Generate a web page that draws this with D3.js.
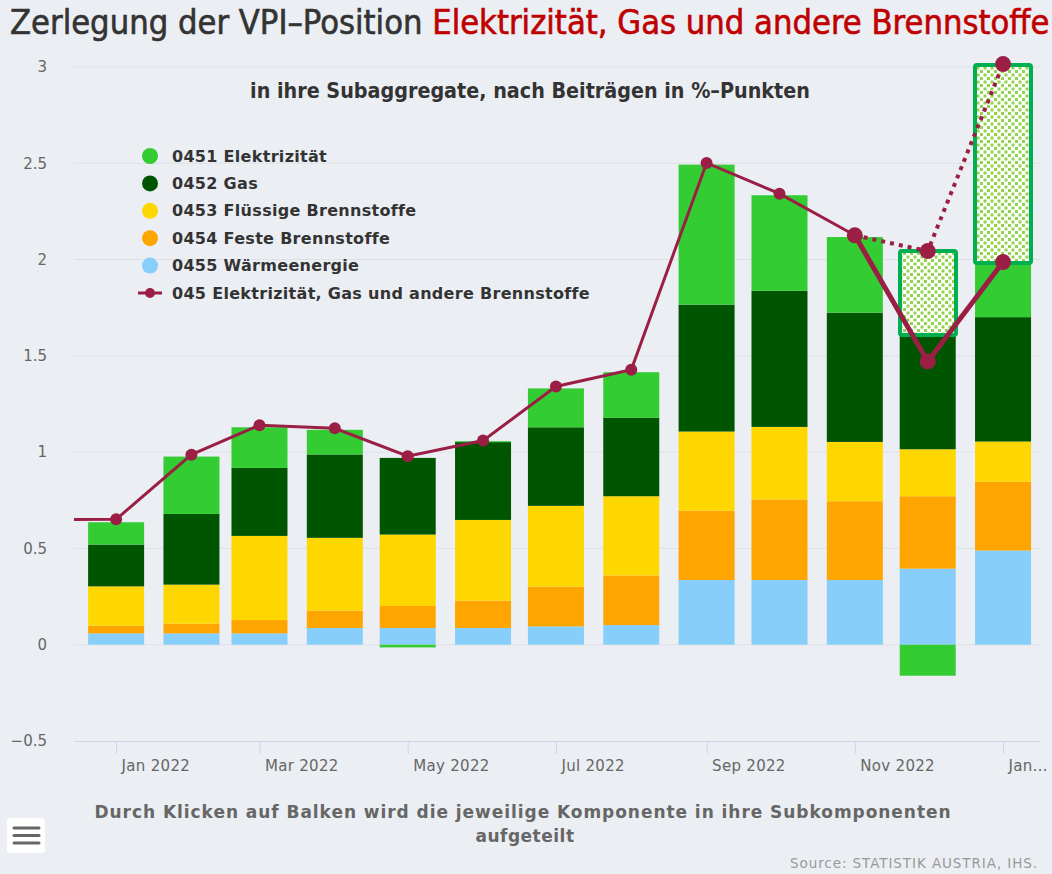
<!DOCTYPE html>
<html>
<head>
<meta charset="utf-8">
<script src="https://cdn.jsdelivr.net/npm/d3@7"></script>
<style>
  body { margin: 0; background: #ebeef3; }
  svg { display: block; }
</style>
</head>
<body>
<script>
// months shown as bars (first of each month)
var months = ["2022-01","2022-02","2022-03","2022-04","2022-05","2022-06","2022-07",
              "2022-08","2022-09","2022-10","2022-11","2022-12","2023-01"];

// contributions in %-points
var elektrizitaet = [0.116, 0.298, 0.211, 0.128, -0.014, 0.005, 0.202, 0.237, 0.727, 0.496, 0.393, -0.161, 0.290];
var gas           = [0.217, 0.367, 0.353, 0.433, 0.398, 0.404, 0.408, 0.407, 0.659, 0.707, 0.671, 0.595, 0.646];
var fluessig      = [0.204, 0.203, 0.437, 0.378, 0.371, 0.419, 0.420, 0.412, 0.411, 0.377, 0.308, 0.244, 0.209];
var fest          = [0.040, 0.050, 0.069, 0.090, 0.114, 0.142, 0.206, 0.257, 0.360, 0.418, 0.409, 0.376, 0.357];
var waerme        = [0.059, 0.059, 0.059, 0.087, 0.087, 0.087, 0.095, 0.102, 0.336, 0.336, 0.336, 0.395, 0.489];

// total line (045), starts one month earlier
var totalMonths = ["2021-12"].concat(months);
var total = [0.65, 0.651, 0.987, 1.14, 1.124, 0.979, 1.06, 1.341, 1.428, 2.502, 2.342, 2.126, 1.471, 1.987];

// hand-drawn annotation: hatched boxes and dotted alternative path
var boxMonths = ["2022-12","2023-01"];
var boxLow  = [1.606, 1.982];
var boxHigh = [2.043, 3.01];
var dotMonths = ["2022-11","2022-12","2023-01"];
var dotValues = [2.126, 2.044, 3.015];
var solidMonths = ["2022-11","2022-12","2023-01"];
var solidValues = [2.126, 1.471, 1.987];

var seriesNames = ["0451 Elektrizität","0452 Gas","0453 Flüssige Brennstoffe","0454 Feste Brennstoffe","0455 Wärmeenergie"];
var totalName = "045 Elektrizität, Gas und andere Brennstoffe";
var colors = ["#33cc33","#005500","#ffd700","#ffa500","#87cefa"];
var lineColor = "#9b1f45";

var yTicks = [-0.5, 0, 0.5, 1, 1.5, 2, 2.5, 3];
var tickMonths = ["2022-01","2022-03","2022-05","2022-07","2022-09","2022-11","2023-01"];
var tickLabels = ["Jan 2022","Mar 2022","May 2022","Jul 2022","Sep 2022","Nov 2022","Jan…"];

var W = 1052, H = 874;
var plot = {left: 74, right: 1040, top: 67, bottom: 741};
var parseM = d3.timeParse("%Y-%m");
var sans = "DejaVu Sans, sans-serif";

var svg = d3.select("body").append("svg")
  .attr("width", W)
  .attr("height", H);

svg.append("rect").attr("width", W).attr("height", H).attr("fill", "#ebeef3");

var x = d3.scaleTime()
  .domain([new Date(2021, 11, 14, 16), new Date(2023, 0, 16, 5)])
  .range([plot.left, plot.right]);
var y = d3.scaleLinear().domain([-0.5, 3]).range([plot.bottom, plot.top]);
var barW = 56;

// squeeze/stretch a text to a given width
function fitWidth(sel, target) {
  var w = sel.node().getComputedTextLength();
  var n = sel.text().length;
  sel.style("letter-spacing", ((target - w) / n) + "px");
}

var defs = svg.append("defs");
defs.append("clipPath").attr("id", "clip")
  .append("rect")
  .attr("x", plot.left).attr("y", 0)
  .attr("width", plot.right - plot.left).attr("height", H);
var pat = defs.append("pattern").attr("id", "hatch")
  .attr("patternUnits", "userSpaceOnUse")
  .attr("width", 7).attr("height", 7);
pat.append("rect").attr("width", 7).attr("height", 7).attr("fill", "#ffffff");
pat.append("rect").attr("x", 0).attr("y", 0).attr("width", 3).attr("height", 3).attr("fill", "#8fd44a");
pat.append("rect").attr("x", 3.5).attr("y", 3.5).attr("width", 3).attr("height", 3).attr("fill", "#8fd44a");

// gridlines
svg.append("g")
  .selectAll("line")
  .data(yTicks.filter(function(d){ return d > -0.5; }))
  .enter().append("line")
  .attr("x1", plot.left).attr("x2", plot.right)
  .attr("y1", function(d){ return y(d); })
  .attr("y2", function(d){ return y(d); })
  .attr("stroke", "#dfe1e6")
  .attr("stroke-width", 1);

// Y axis labels
var yAxis = svg.append("g")
  .attr("transform", "translate(" + plot.left + ",0)")
  .call(d3.axisLeft(y).tickValues(yTicks).tickSize(0).tickPadding(27).tickFormat(d3.format("~g")));
yAxis.select(".domain").remove();
yAxis.selectAll("text")
  .attr("fill", "#666666")
  .style("font-family", sans)
  .style("font-size", "15px");

// X axis
var xAxis = svg.append("g")
  .attr("transform", "translate(0," + plot.bottom + ")")
  .call(d3.axisBottom(x)
    .tickValues(tickMonths.map(parseM))
    .tickSize(13)
    .tickSizeOuter(0)
    .tickFormat(function(d, i){ return tickLabels[i]; }));
xAxis.select(".domain").attr("stroke", "#ccd6eb");
xAxis.selectAll(".tick line").attr("stroke", "#ccd6eb");
xAxis.selectAll("text")
  .attr("fill", "#666666")
  .attr("text-anchor", "start")
  .attr("x", 5)
  .attr("y", 30)
  .attr("dy", 0)
  .style("font-family", sans)
  .style("font-size", "15px")
  .style("letter-spacing", "0.3px");

// stacked bars
var keys = ["w","fe","fl","g","e"];
var table = months.map(function(m, i){
  return {date: parseM(m), e: elektrizitaet[i], g: gas[i], fl: fluessig[i], fe: fest[i], w: waerme[i]};
});
var keyColor = {e: colors[0], g: colors[1], fl: colors[2], fe: colors[3], w: colors[4]};
var stacked = d3.stack().keys(keys).offset(d3.stackOffsetDiverging)(table);

svg.append("g")
  .selectAll("g")
  .data(stacked)
  .enter().append("g")
  .attr("fill", function(d){ return keyColor[d.key]; })
  .selectAll("rect")
  .data(function(d){ return d; })
  .enter().append("rect")
  .attr("x", function(d){ return x(d.data.date) - barW / 2; })
  .attr("width", barW)
  .attr("y", function(d){ return y(Math.max(d[0], d[1])); })
  .attr("height", function(d){ return Math.abs(y(d[0]) - y(d[1])); });

// total line
var totalData = totalMonths.map(function(m, i){ return {date: parseM(m), v: total[i]}; });
var line = d3.line()
  .x(function(d){ return x(d.date); })
  .y(function(d){ return y(d.v); });

var lineG = svg.append("g").attr("clip-path", "url(#clip)");
lineG.append("path")
  .datum(totalData)
  .attr("d", line)
  .attr("fill", "none")
  .attr("stroke", lineColor)
  .attr("stroke-width", 3);
lineG.selectAll("circle")
  .data(totalData.slice(1))
  .enter().append("circle")
  .attr("cx", function(d){ return x(d.date); })
  .attr("cy", function(d){ return y(d.v); })
  .attr("r", 6)
  .attr("fill", lineColor);

// annotation overlay
var ann = svg.append("g");
ann.selectAll("rect")
  .data(boxMonths)
  .enter().append("rect")
  .attr("x", function(m){ return Math.round(x(parseM(m)) - barW / 2); })
  .attr("width", barW)
  .attr("y", function(m, i){ return Math.round(y(boxHigh[i])); })
  .attr("height", function(m, i){ return Math.round(y(boxLow[i]) - y(boxHigh[i])); })
  .attr("rx", 2)
  .attr("fill", "url(#hatch)")
  .attr("stroke", "#00b050")
  .attr("stroke-width", 4);

var dotData = dotMonths.map(function(m, i){ return {date: parseM(m), v: dotValues[i]}; });
var solidData = solidMonths.map(function(m, i){ return {date: parseM(m), v: solidValues[i]}; });

ann.append("path")
  .datum(dotData)
  .attr("d", line)
  .attr("fill", "none")
  .attr("stroke", lineColor)
  .attr("stroke-width", 4)
  .attr("stroke-dasharray", "4,5");
ann.append("path")
  .datum(solidData)
  .attr("d", line)
  .attr("fill", "none")
  .attr("stroke", lineColor)
  .attr("stroke-width", 5);
ann.selectAll("circle")
  .data(dotData.concat(solidData.slice(1)))
  .enter().append("circle")
  .attr("cx", function(d){ return x(d.date); })
  .attr("cy", function(d){ return y(d.v); })
  .attr("r", 8)
  .attr("fill", lineColor);

// legend
var legend = svg.append("g").attr("transform", "translate(150,156)");
var rowH = 27.4;
seriesNames.forEach(function(name, i){
  var row = legend.append("g").attr("transform", "translate(0," + (i * rowH) + ")");
  row.append("circle").attr("r", 8).attr("fill", colors[i]);
  row.append("text")
    .attr("x", 22).attr("dy", "0.35em")
    .attr("fill", "#333333")
    .style("font-family", sans)
    .style("font-weight", "bold")
    .style("font-size", "16px")
    .style("letter-spacing", "0.3px")
    .text(name);
});
var lrow = legend.append("g").attr("transform", "translate(0," + (5 * rowH) + ")");
lrow.append("line").attr("x1", -12).attr("x2", 12).attr("stroke", lineColor).attr("stroke-width", 3);
lrow.append("circle").attr("r", 5).attr("fill", lineColor);
lrow.append("text")
  .attr("x", 22).attr("dy", "0.35em")
  .attr("fill", "#333333")
  .style("font-family", sans)
  .style("font-weight", "bold")
  .style("font-size", "16px")
  .style("letter-spacing", "0.3px")
  .text(totalName);

// titles
var condensed = "'DejaVu Sans Condensed', sans-serif";
var title = svg.append("text")
  .attr("x", 10).attr("y", 34)
  .style("font-family", condensed)
  .style("font-size", "30px");
title.append("tspan").attr("fill", "#333333").attr("stroke", "#333333").attr("stroke-width", 0.6)
  .text("Zerlegung der VPI–Position ");
title.append("tspan").attr("fill", "#c00000").attr("stroke", "#c00000").attr("stroke-width", 0.6)
  .text("Elektrizität, Gas und andere Brennstoffe");
var tw = title.node().getComputedTextLength();
title.style("font-size", (30 * 1040 / tw) + "px");

var sub = svg.append("text")
  .attr("x", 530).attr("y", 98)
  .attr("text-anchor", "middle")
  .attr("fill", "#333333")
  .style("font-family", condensed)
  .style("font-weight", "bold")
  .style("font-size", "20px")
  .text("in ihre Subaggregate, nach Beiträgen in %–Punkten");
var sw = sub.node().getComputedTextLength();
sub.style("font-size", (20 * 560 / sw) + "px");

// caption
var cap1 = svg.append("text")
  .attr("x", 523).attr("y", 818)
  .attr("text-anchor", "middle")
  .attr("fill", "#666666")
  .style("font-family", sans)
  .style("font-weight", "bold")
  .style("font-size", "17px")
  .text("Durch Klicken auf Balken wird die jeweilige Komponente in ihre Subkomponenten");
fitWidth(cap1, 857);
var cap2 = svg.append("text")
  .attr("x", 525).attr("y", 842)
  .attr("text-anchor", "middle")
  .attr("fill", "#666666")
  .style("font-family", sans)
  .style("font-weight", "bold")
  .style("font-size", "17px")
  .text("aufgeteilt");
fitWidth(cap2, 99);

var src = svg.append("text")
  .attr("x", 1038).attr("y", 868)
  .attr("text-anchor", "end")
  .attr("fill", "#999999")
  .style("font-family", sans)
  .style("font-size", "13.5px")
  .text("Source: STATISTIK AUSTRIA, IHS.");
fitWidth(src, 248);

// menu button
var menu = svg.append("g");
menu.append("rect")
  .attr("x", 7).attr("y", 818).attr("width", 38).attr("height", 35)
  .attr("rx", 3).attr("fill", "#ffffff");
[828, 835.5, 843].forEach(function(yy){
  menu.append("line")
    .attr("x1", 14).attr("x2", 39).attr("y1", yy).attr("y2", yy)
    .attr("stroke", "#666666").attr("stroke-width", 3).attr("stroke-linecap", "round");
});
</script>
</body>
</html>
